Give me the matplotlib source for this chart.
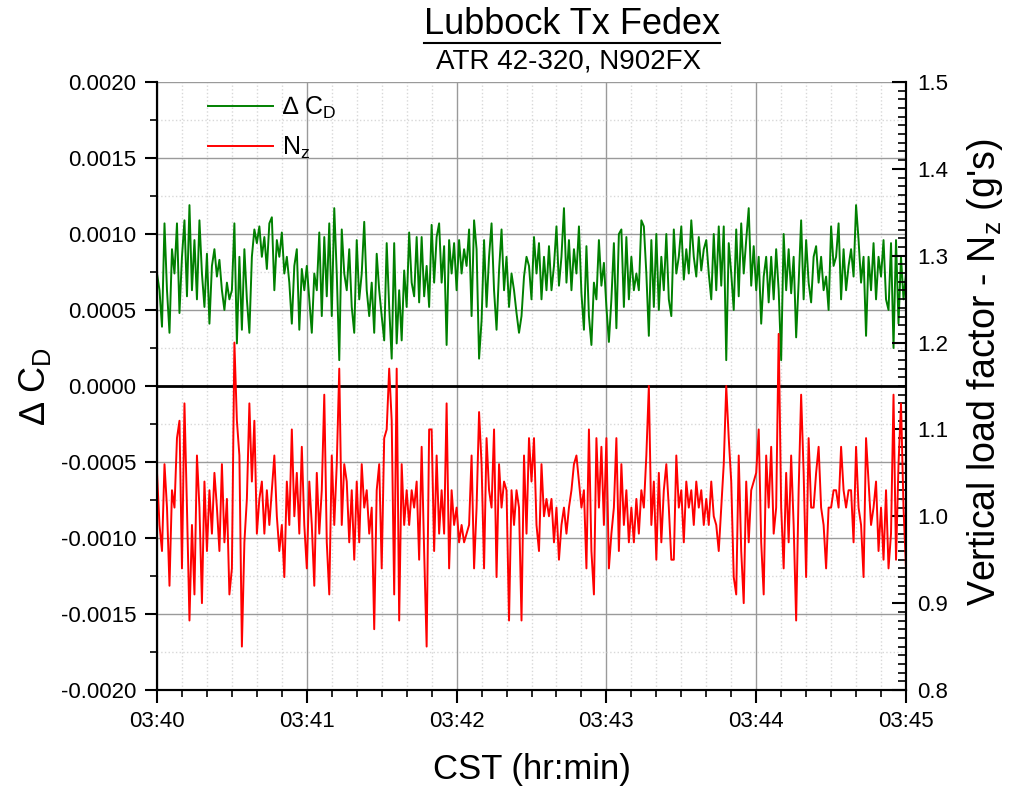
import numpy as np
import matplotlib.pyplot as plt
from matplotlib.ticker import MultipleLocator, FormatStrFormatter
from matplotlib.lines import Line2D

plt.rcParams['font.family'] = ['Liberation Sans', 'DejaVu Sans']
plt.rcParams['mathtext.fontset'] = 'custom'
plt.rcParams['mathtext.rm'] = 'Liberation Sans'
plt.rcParams['axes.unicode_minus'] = False

dcd = [74, 63, 39, 107, 63, 35, 90, 74, 107, 48,
       85, 109, 59, 119, 63, 96, 57, 109, 74, 52,
       87, 41, 79, 90, 72, 83, 63, 50, 68, 57,
       63, 107, 28, 85, 37, 90, 57, 35, 85, 103,
       94, 105, 85, 98, 77, 107, 111, 63, 96, 85,
       101, 74, 85, 68, 41, 79, 90, 37, 77, 63,
       79, 57, 35, 74, 63, 101, 46, 98, 59, 107,
       46, 117, 74, 17, 103, 74, 63, 90, 52, 35,
       96, 57, 74, 108, 63, 46, 68, 35, 87, 63,
       46, 30, 94, 52, 18, 94, 28, 63, 30, 76,
       52, 101, 68, 59, 98, 55, 98, 59, 79, 52,
       106, 68, 98, 107, 68, 92, 27, 96, 74, 94,
       63, 96, 74, 90, 79, 103, 46, 109, 90, 18,
       43, 96, 52, 85, 107, 63, 37, 76, 103, 63,
       85, 52, 74, 63, 48, 35, 46, 72, 85, 79,
       57, 98, 74, 94, 57, 85, 63, 92, 63, 79,
       105, 66, 85, 117, 68, 96, 63, 90, 74, 105,
       61, 37, 92, 46, 27, 68, 57, 96, 66, 81,
       52, 29, 57, 94, 38, 100, 103, 52, 98, 57,
       85, 63, 74, 63, 109, 105, 74, 33, 96, 52,
       100, 50, 85, 63, 100, 57, 46, 103, 74, 85,
       105, 70, 90, 74, 109, 85, 72, 98, 76, 90,
       96, 74, 57, 100, 63, 105, 66, 105, 17, 94,
       74, 50, 103, 59, 107, 74, 96, 117, 66, 92,
       63, 85, 41, 72, 85, 55, 85, 57, 90, 63,
       17, 100, 63, 90, 61, 85, 32, 68, 109, 57,
       96, 68, 55, 85, 92, 68, 85, 63, 72, 50,
       105, 79, 85, 107, 57, 90, 63, 79, 90, 72,
       119, 96, 68, 85, 33, 85, 63, 94, 57, 85,
       72, 96, 57, 50, 94, 25, 96, 41, 85, 57,
       74]

# Nz in hundredths of g, once per second
nz = [105, 99, 96, 106, 101, 92, 103, 101, 109, 111,
      94, 113, 101, 88, 99, 91, 107, 101, 90, 104,
      96, 103, 98, 105, 101, 96, 106, 97, 102, 91,
      94, 120, 111, 107, 85, 97, 102, 113, 104, 111,
      98, 102, 104, 98, 103, 99, 103, 107, 100, 96,
      99, 93, 104, 99, 110, 100, 105, 98, 108, 99,
      94, 104, 99, 92, 105, 98, 103, 114, 97, 91,
      107, 99, 106, 117, 99, 106, 104, 97, 103, 95,
      104, 97, 106, 101, 103, 98, 101, 87, 103, 106,
      94, 109, 110, 117, 111, 91, 117, 88, 106, 99,
      103, 99, 103, 101, 104, 95, 108, 96, 85, 110,
      110, 96, 107, 98, 103, 98, 113, 94, 103, 99,
      101, 97, 99, 97, 98, 99, 107, 94, 101, 112,
      106, 94, 109, 103, 101, 110, 93, 106, 101, 104,
      103, 88, 103, 99, 103, 101, 88, 107, 98, 109,
      104, 109, 99, 96, 106, 100, 102, 100, 102, 97,
      101, 95, 99, 101, 98, 101, 103, 106, 107, 104,
      101, 103, 94, 110, 96, 91, 109, 101, 108, 99,
      109, 94, 98, 101, 109, 96, 106, 99, 103, 97,
      101, 97, 102, 98, 103, 101, 107, 115, 99, 104,
      95, 105, 97, 103, 106, 101, 95, 95, 107, 101,
      103, 97, 104, 101, 103, 99, 104, 101, 103, 99,
      102, 99, 104, 100, 99, 96, 101, 106, 115, 109,
      104, 93, 91, 107, 96, 90, 104, 97, 103, 104,
      105, 110, 97, 91, 107, 101, 108, 98, 101, 121,
      101, 94, 105, 97, 107, 99, 88, 103, 114, 105,
      93, 109, 101, 101, 105, 108, 101, 99, 94, 101,
      101, 103, 103, 101, 108, 103, 101, 103, 103, 97,
      108, 101, 99, 93, 109, 104, 99, 101, 104, 96,
      101, 95, 103, 94, 98, 114, 95, 106, 113, 101,
      94]

xticks = [0, 60, 120, 180, 240, 300]
xticklabels = ['03:40', '03:41', '03:42', '03:43', '03:44', '03:45']

W, H = 1011, 789
fig = plt.figure(figsize=(W / 100, H / 100), dpi=100)
ax = fig.add_axes([157 / W, 1 - 690 / H, (906 - 157) / W, (690 - 82) / H])
ax2 = ax.twinx()

l1, = ax.plot(np.arange(len(dcd)), np.array(dcd) * 1e-5, color='#008000', lw=1.4)
l2, = ax2.plot(np.arange(len(nz)), np.array(nz) / 100, color='#ff0000', lw=1.4)
ax.axhline(0, color='black', lw=2, zorder=1.5)

ax.set_xlim(0, 300)
ax.set_ylim(-0.002, 0.002)
ax2.set_ylim(0.8, 1.5)

ax.set_xticks(xticks)
ax.set_xticklabels(xticklabels)
ax.xaxis.set_minor_locator(MultipleLocator(10))
ax.yaxis.set_major_locator(MultipleLocator(0.0005))
ax.yaxis.set_minor_locator(MultipleLocator(0.00025))
ax.yaxis.set_major_formatter(FormatStrFormatter('%.4f'))
ax2.yaxis.set_major_locator(MultipleLocator(0.1))
ax2.yaxis.set_minor_locator(MultipleLocator(0.01))
ax2.yaxis.set_major_formatter(FormatStrFormatter('%.1f'))

ax.grid(which='major', color='#9a9a9a', lw=1)
ax.grid(which='minor', color='#d8d8d8', ls=':', lw=1)
ax.set_axisbelow(True)

for a in (ax, ax2):
    a.spines['top'].set_visible(False)
    for s in ('left', 'bottom', 'right'):
        a.spines[s].set_linewidth(1.5)

ax.tick_params(which='major', direction='out', length=9, width=1.5, labelsize=16, pad=6)
ax.tick_params(which='minor', direction='out', length=5, width=1.2)
ax2.tick_params(which='major', direction='in', length=10, width=1.5, labelsize=16, pad=8)
ax2.tick_params(which='minor', direction='in', length=6, width=1.2)

ax2.legend([l1, l2], ['\u2206 C$_\\mathregular{D}$', 'N$_\\mathregular{z}$'],
           loc='upper left', bbox_to_anchor=(0.055, 0.995), frameon=False,
           fontsize=18, handlelength=2.6, handletextpad=0.35, labelspacing=0.55,
           borderaxespad=0)

title = fig.text(572 / W, 1 - 24 / H, 'Lubbock Tx Fedex', ha='center', va='center', fontsize=26)
fig.text(568 / W, 1 - 61 / H, 'ATR 42-320, N902FX', ha='center', va='center', fontsize=20)
fig.text(532 / W, 1 - 770 / H, 'CST (hr:min)', ha='center', va='center', fontsize=25)
fig.text(35 / W, 1 - 386 / H, '\u2206 C$_\\mathregular{D}$', rotation=90,
         ha='center', va='center', fontsize=26)
fig.text(985 / W, 1 - 372 / H, "Vertical load factor - N$_\\mathregular{z}$ (g's)",
         rotation=90, ha='center', va='center', fontsize=27)

# underline the title
fig.canvas.draw()
bb = title.get_window_extent()
fig.add_artist(Line2D([bb.x0 / W, bb.x1 / W], [(bb.y0 - 1) / H, (bb.y0 - 1) / H],
                      transform=fig.transFigure, color='black', lw=1.5))

fig.savefig('out.png', dpi=100)
